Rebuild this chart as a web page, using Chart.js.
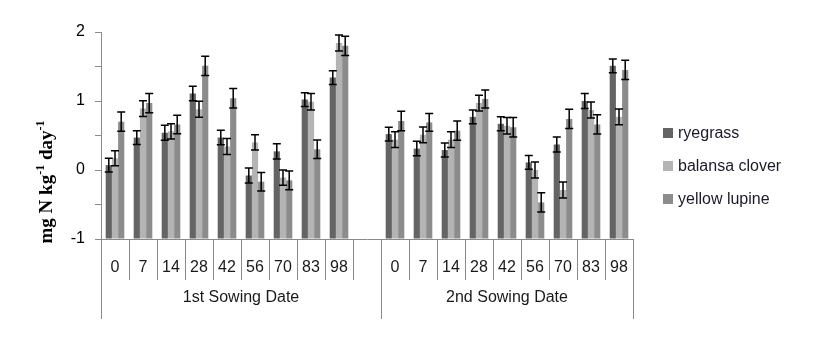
<!DOCTYPE html>
<html>
<head>
<meta charset="utf-8">
<script src="https://cdn.jsdelivr.net/npm/chart.js@4/dist/chart.umd.min.js"></script>
<style>
  html, body { margin: 0; padding: 0; background: #fff; }
  #wrap { width: 830px; height: 341px; }
</style>
</head>
<body>
<div id="wrap"><canvas id="canvas"></canvas></div>
<script>
// days after incorporation, two sowing dates with an empty slot between them
var days = ['0', '7', '14', '28', '42', '56', '70', '83', '98', '', '0', '7', '14', '28', '42', '56', '70', '83', '98'];
var sowingDates = ['1st Sowing Date', '2nd Sowing Date'];
var yTicks = [-1, 0, 1, 2];

var ryegrass     = [0.07, 0.47, 0.54, 1.11, 0.47, -0.08, 0.27, 1.02, 1.34, null, 0.52, 0.31, 0.29, 0.77, 0.67, 0.11, 0.37, 1.00, 1.51];
var ryegrassErr  = [0.10, 0.10, 0.11, 0.105, 0.105, 0.11, 0.11, 0.10, 0.10, null, 0.10, 0.105, 0.10, 0.10, 0.10, 0.10, 0.11, 0.11, 0.10];
var balansa      = [0.17, 0.89, 0.56, 0.88, 0.34, 0.40, -0.11, 0.99, 1.84, null, 0.44, 0.51, 0.44, 0.97, 0.64, 0.00, -0.29, 0.87, 0.77];
var balansaErr   = [0.11, 0.115, 0.11, 0.115, 0.115, 0.11, 0.11, 0.12, 0.115, null, 0.115, 0.115, 0.115, 0.115, 0.12, 0.115, 0.115, 0.115, 0.115];
var lupine       = [0.70, 0.97, 0.66, 1.51, 1.04, -0.17, -0.15, 0.30, 1.80, null, 0.71, 0.69, 0.57, 1.03, 0.62, -0.47, 0.74, 0.66, 1.45];
var lupineErr    = [0.14, 0.14, 0.135, 0.14, 0.14, 0.135, 0.135, 0.135, 0.14, null, 0.14, 0.13, 0.14, 0.13, 0.14, 0.14, 0.14, 0.14, 0.14];

var axisGrey = '#8a8a8a';
var textFont = '"Liberation Sans", Arial, sans-serif';

var barData = {
  labels: days,
  datasets: [
    { label: 'ryegrass', data: ryegrass, err: ryegrassErr, backgroundColor: '#646464' },
    { label: 'balansa clover', data: balansa, err: balansaErr, backgroundColor: '#b4b4b4' },
    { label: 'yellow lupine', data: lupine, err: lupineErr, backgroundColor: '#8c8c8c' }
  ]
};

// error bars, x-axis labels, group labels, y title and legend
var extras = {
  id: 'extras',
  afterDatasetsDraw: function(chart) {
    var ctx = chart.ctx;
    var y = chart.scales.y;
    ctx.save();
    ctx.strokeStyle = '#000';
    ctx.lineWidth = 1.5;
    chart.data.datasets.forEach(function(ds, d) {
      var meta = chart.getDatasetMeta(d);
      meta.data.forEach(function(bar, i) {
        var v = ds.data[i], e = ds.err[i];
        if (v === null) return;
        var top = y.getPixelForValue(v + e), bot = y.getPixelForValue(v - e);
        ctx.beginPath();
        ctx.moveTo(bar.x, top); ctx.lineTo(bar.x, bot);
        ctx.moveTo(bar.x - 4, top); ctx.lineTo(bar.x + 4, top);
        ctx.moveTo(bar.x - 4, bot); ctx.lineTo(bar.x + 4, bot);
        ctx.stroke();
      });
    });
    ctx.restore();
  },
  afterDraw: function(chart) {
    var ctx = chart.ctx;
    var x = chart.scales.x;
    var area = chart.chartArea;
    var slot = x.getPixelForValue(1) - x.getPixelForValue(0);
    ctx.save();

    // category labels
    ctx.fillStyle = '#1a1a1a';
    ctx.font = '16px ' + textFont;
    ctx.textAlign = 'center';
    ctx.textBaseline = 'middle';
    days.forEach(function(lab, i) {
      ctx.fillText(lab, x.getPixelForValue(i), 268);
    });

    // long group separators and group labels
    var edges = [area.left, x.getPixelForValue(9) + slot / 2, area.right];
    ctx.strokeStyle = axisGrey;
    ctx.lineWidth = 1;
    edges.forEach(function(px) {
      ctx.beginPath();
      ctx.moveTo(Math.round(px) + 0.5, area.bottom);
      ctx.lineTo(Math.round(px) + 0.5, 319);
      ctx.stroke();
    });
    sowingDates.forEach(function(lab, g) {
      ctx.fillText(lab, (edges[g] + edges[g + 1]) / 2, 298);
    });

    // y title with superscripts
    var parts = [['mg N kg', false], ['-1', true], [' day', false], ['-1', true]];
    var big = 'bold 19px "Liberation Serif", "Times New Roman", serif';
    var small = 'bold 12px "Liberation Serif", "Times New Roman", serif';
    var total = 0;
    parts.forEach(function(p) { ctx.font = p[1] ? small : big; total += ctx.measureText(p[0]).width; });
    ctx.translate(52, 182);
    ctx.rotate(-Math.PI / 2);
    ctx.textAlign = 'left';
    ctx.textBaseline = 'alphabetic';
    ctx.fillStyle = '#000';
    var pos = -total / 2;
    parts.forEach(function(p) {
      ctx.font = p[1] ? small : big;
      ctx.fillText(p[0], pos, p[1] ? -8 : 0);
      pos += ctx.measureText(p[0]).width;
    });
    ctx.setTransform(1, 0, 0, 1, 0, 0);

    // legend
    var rows = [133, 166, 199];
    ctx.font = '16px ' + textFont;
    ctx.textBaseline = 'middle';
    chart.data.datasets.forEach(function(ds, d) {
      ctx.fillStyle = ds.backgroundColor;
      ctx.fillRect(663, rows[d] - 5, 10, 10);
      ctx.fillStyle = '#1a1a2a';
      ctx.fillText(ds.label, 678, rows[d] + 1);
    });
    ctx.restore();
  }
};

window.onload = function() {
  var ctx = document.getElementById('canvas').getContext('2d');
  window.myBar = new Chart(ctx, {
    type: 'bar',
    data: barData,
    plugins: [extras],
    options: {
      responsive: true,
      maintainAspectRatio: false,
      animation: false,
      datasets: { bar: { base: -1, categoryPercentage: 0.665, barPercentage: 1 } },
      layout: { padding: { left: 0, top: 32, right: 197, bottom: 0 } },
      plugins: { legend: { display: false }, tooltip: { enabled: false } },
      scales: {
        x: {
          offset: true,
          afterFit: function(s) { s.height = 102; },
          ticks: { display: false },
          grid: { offset: true, drawOnChartArea: false, drawTicks: true, tickLength: 41, color: axisGrey },
          border: { color: axisGrey }
        },
        y: {
          min: -1, max: 2,
          afterFit: function(s) { s.width = 101; },
          ticks: {
            stepSize: 0.5, padding: 10, color: '#000',
            font: { size: 16, family: textFont },
            callback: function(v) { return yTicks.indexOf(v) >= 0 ? String(v) : ''; }
          },
          grid: { drawOnChartArea: false, drawTicks: true, tickLength: 6, color: axisGrey },
          border: { color: axisGrey }
        }
      }
    }
  });
};
</script>
</body>
</html>
